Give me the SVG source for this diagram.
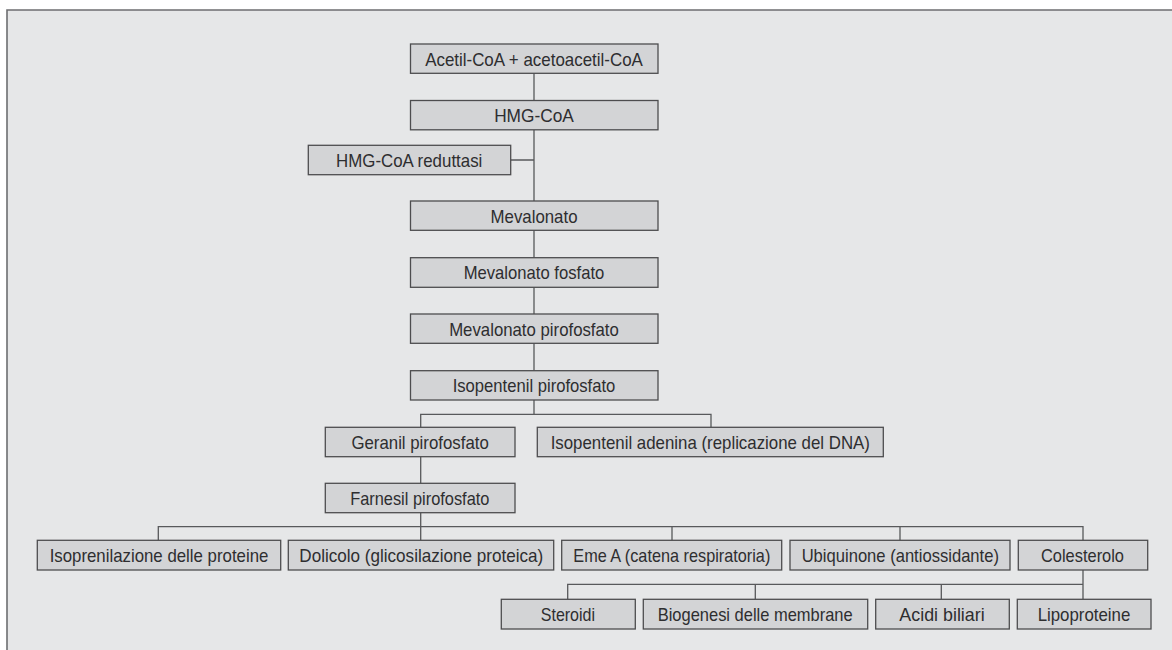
<svg xmlns="http://www.w3.org/2000/svg" width="1172" height="650" viewBox="0 0 1172 650">
<style>
.bg{fill:#e6e7e8}
.frame{fill:none;stroke:#6d6e70;stroke-width:1.6}
.box{fill:#d3d4d6;stroke:#4d4d4f;stroke-width:1.3}
.t{font-family:"Liberation Sans",Arial,sans-serif;font-size:19px;fill:#2e2e30;text-anchor:middle}
.c{fill:none;stroke:#58595b;stroke-width:1.3}
</style>
<rect x="0" y="0" width="1172" height="650" fill="#ffffff"/>
<rect class="bg" x="7" y="10" width="1165" height="640"/>
<path class="frame" d="M7,650 V10 H1172"/>
<g id="connectors">
<path class="c" d="M534,73.3 V100.5 M534,130 V201 M510.7,160 H534 M534,230.3 V257.7 M534,287.3 V314 M534,343.3 V370.7 M534,400 V414.3"/>
<path class="c" d="M420.7,427.3 V414.3 H711 V427.3"/>
<path class="c" d="M420.7,456.7 V483.3 M420.7,512.7 V540.3"/>
<path class="c" d="M158.3,540.3 V526.7 H1083 V540.3 M672,526.7 V540.3 M900,526.7 V540.3"/>
<path class="c" d="M1083,570 V599.3 M567.7,599.3 V584.3 H1083 M755.3,584.3 V599.3 M941.3,584.3 V599.3"/>
</g>
<g id="n-acetil"><rect class="box" x="410.5" y="44" width="247.5" height="29.3"/><text class="t" x="534" y="65.6" textLength="217.7" lengthAdjust="spacingAndGlyphs">Acetil-CoA + acetoacetil-CoA</text></g>
<g id="n-hmgcoa"><rect class="box" x="410.5" y="100.5" width="247.5" height="29.3"/><text class="t" x="534" y="122.1" textLength="79.7" lengthAdjust="spacingAndGlyphs">HMG-CoA</text></g>
<g id="n-reduttasi"><rect class="box" x="308.3" y="145.3" width="202.4" height="29.4"/><text class="t" x="409.2" y="166.9" textLength="146.3" lengthAdjust="spacingAndGlyphs">HMG-CoA reduttasi</text></g>
<g id="n-mevalonato"><rect class="box" x="410.5" y="201" width="247.5" height="29.3"/><text class="t" x="534" y="222.6" textLength="87" lengthAdjust="spacingAndGlyphs">Mevalonato</text></g>
<g id="n-mevfosfato"><rect class="box" x="410.5" y="257.7" width="247.5" height="29.6"/><text class="t" x="534" y="279.4" textLength="140.7" lengthAdjust="spacingAndGlyphs">Mevalonato fosfato</text></g>
<g id="n-mevpirofosfato"><rect class="box" x="410.5" y="314" width="247.5" height="29.3"/><text class="t" x="534" y="335.6" textLength="169.7" lengthAdjust="spacingAndGlyphs">Mevalonato pirofosfato</text></g>
<g id="n-ipp"><rect class="box" x="410.5" y="370.7" width="247.5" height="29.3"/><text class="t" x="534" y="392.3" textLength="162.7" lengthAdjust="spacingAndGlyphs">Isopentenil pirofosfato</text></g>
<g id="n-geranil"><rect class="box" x="325.3" y="427.3" width="189.7" height="29.4"/><text class="t" x="420.1" y="448.9" textLength="137.3" lengthAdjust="spacingAndGlyphs">Geranil pirofosfato</text></g>
<g id="n-adenina"><rect class="box" x="537.3" y="427.3" width="346" height="29.4"/><text class="t" x="710.3" y="448.9" textLength="319.3" lengthAdjust="spacingAndGlyphs">Isopentenil adenina (replicazione del DNA)</text></g>
<g id="n-farnesil"><rect class="box" x="325.3" y="483.3" width="189.7" height="29.4"/><text class="t" x="419.8" y="504.9" textLength="139.3" lengthAdjust="spacingAndGlyphs">Farnesil pirofosfato</text></g>
<g id="n-isoprenilazione"><rect class="box" x="37.3" y="540.3" width="243.4" height="29.7"/><text class="t" x="159" y="562.1" textLength="218.7" lengthAdjust="spacingAndGlyphs">Isoprenilazione delle proteine</text></g>
<g id="n-dolicolo"><rect class="box" x="288.3" y="540.3" width="265.4" height="29.7"/><text class="t" x="421.3" y="562.1" textLength="244" lengthAdjust="spacingAndGlyphs">Dolicolo (glicosilazione proteica)</text></g>
<g id="n-eme"><rect class="box" x="561.7" y="540.3" width="220" height="29.7"/><text class="t" x="671.8" y="562.1" textLength="197" lengthAdjust="spacingAndGlyphs">Eme A (catena respiratoria)</text></g>
<g id="n-ubiquinone"><rect class="box" x="790" y="540.3" width="220" height="29.7"/><text class="t" x="900.3" y="562.1" textLength="197.3" lengthAdjust="spacingAndGlyphs">Ubiquinone (antiossidante)</text></g>
<g id="n-colesterolo"><rect class="box" x="1018.3" y="540.3" width="129.4" height="29.7"/><text class="t" x="1082.5" y="562.1" textLength="83" lengthAdjust="spacingAndGlyphs">Colesterolo</text></g>
<g id="n-steroidi"><rect class="box" x="501.3" y="599.3" width="134" height="29.7"/><text class="t" x="567.9" y="621.1" textLength="54.3" lengthAdjust="spacingAndGlyphs">Steroidi</text></g>
<g id="n-biogenesi"><rect class="box" x="643.3" y="599.3" width="224.4" height="29.7"/><text class="t" x="755.2" y="621.1" textLength="195" lengthAdjust="spacingAndGlyphs">Biogenesi delle membrane</text></g>
<g id="n-acidi"><rect class="box" x="875.7" y="599.3" width="133.6" height="29.7"/><text class="t" x="942" y="621.1" textLength="85.3" lengthAdjust="spacingAndGlyphs">Acidi biliari</text></g>
<g id="n-lipoproteine"><rect class="box" x="1017.3" y="599.3" width="133.7" height="29.7"/><text class="t" x="1084" y="621.1" textLength="92.7" lengthAdjust="spacingAndGlyphs">Lipoproteine</text></g>
</svg>
